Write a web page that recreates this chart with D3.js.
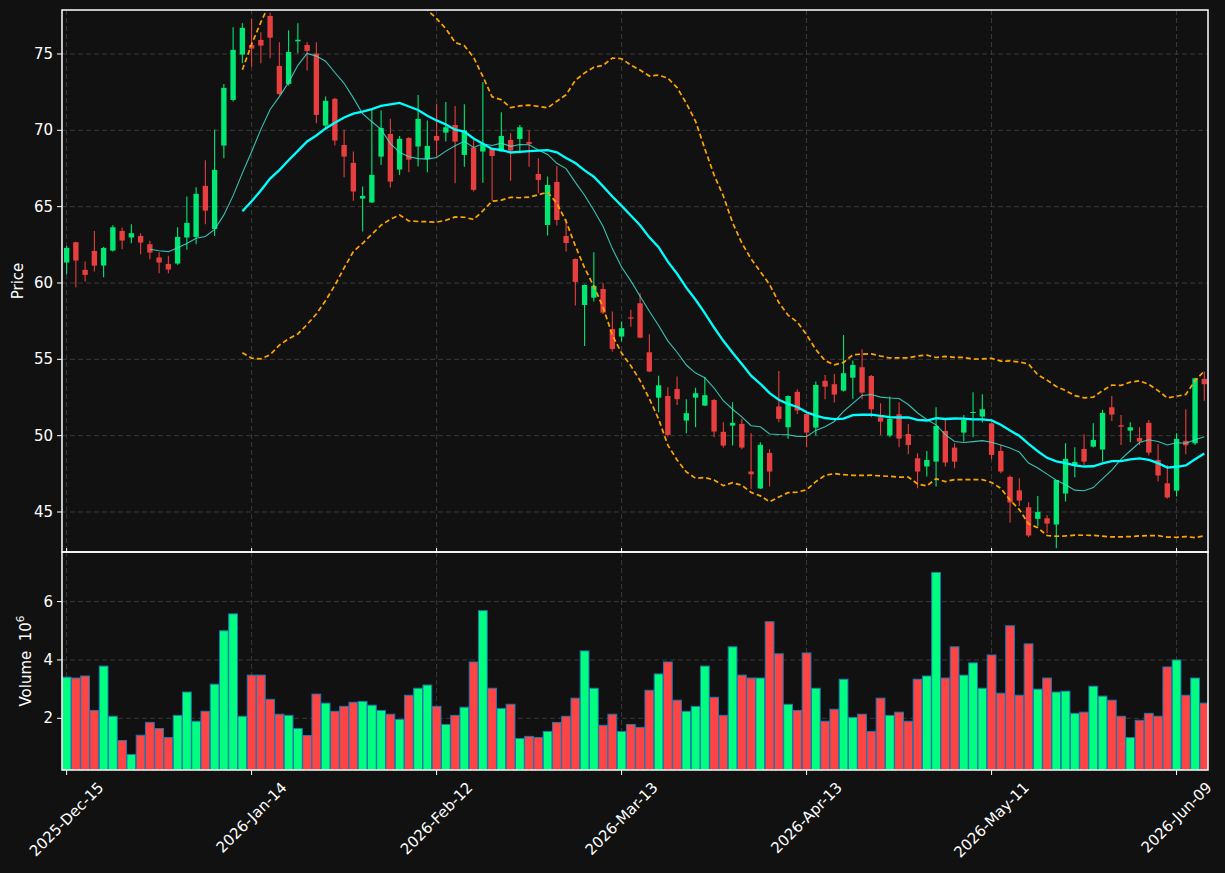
<!DOCTYPE html>
<html><head><meta charset="utf-8">
<script src="https://cdn.jsdelivr.net/npm/d3@7"></script>
<style>body{margin:0;background:#111111;} text{font-family:"DejaVu Sans",sans-serif;}</style>
</head><body><svg id="c" width="1225" height="873"></svg>
<script>
const opens=[61.34,62.67,60.86,62.10,61.14,62.12,63.41,62.98,63.08,62.54,61.67,61.25,61.27,62.98,63.02,66.36,63.54,69.00,71.99,74.96,
75.59,75.92,77.49,74.22,73.04,75.83,75.59,75.03,70.31,72.06,69.04,67.87,65.53,65.27,68.28,69.76,67.43,69.50,68.94,68.11,
69.63,69.85,70.35,68.39,68.87,68.61,68.82,68.61,69.37,69.43,69.24,67.14,63.80,66.62,63.08,61.57,58.56,59.04,59.61,56.99,
56.49,57.75,58.67,55.46,52.49,52.60,53.06,50.99,52.49,51.97,52.34,50.25,50.66,50.77,47.65,46.54,48.87,51.91,50.55,52.87,
51.42,50.53,53.59,53.37,52.95,53.80,54.48,53.91,51.21,50.01,51.40,50.11,48.52,47.98,48.30,50.31,49.22,50.20,51.51,51.25,
50.81,49.00,47.30,46.42,45.31,44.55,44.59,44.18,46.21,48.08,49.13,49.28,49.09,51.86,50.68,50.33,49.85,50.84,48.41,46.88,
46.40,49.66,49.50,53.72];
const highs=[62.43,62.70,61.40,63.41,62.35,63.78,63.63,63.85,63.26,62.76,62.02,61.78,63.65,65.66,66.27,68.04,70.03,73.04,76.75,77.01,
77.30,76.42,77.70,75.77,76.55,77.01,75.77,75.77,72.21,72.14,70.03,68.61,66.32,71.40,71.29,70.75,69.63,69.55,72.32,70.64,
71.74,71.86,71.60,71.70,69.37,73.14,68.85,71.18,69.81,70.35,70.00,68.17,66.97,67.67,64.19,61.60,59.90,62.01,59.98,58.13,
57.47,58.24,59.33,56.64,53.93,53.17,53.87,52.39,53.13,53.83,52.40,50.88,52.19,51.10,50.16,49.57,49.11,54.24,52.63,53.04,
51.45,53.54,53.98,54.04,56.60,54.92,55.66,53.98,52.12,52.56,52.19,50.77,48.85,49.00,51.86,51.10,49.50,51.36,52.84,52.71,
50.86,49.39,47.39,47.21,45.64,46.05,44.79,47.10,49.50,49.24,50.09,50.81,51.69,52.60,51.36,50.88,50.55,51.03,49.44,48.08,
50.16,51.73,53.80,54.20];
const lows=[60.57,59.72,60.09,60.75,60.38,62.06,62.21,62.60,61.88,61.56,60.64,60.64,61.19,62.17,62.54,63.85,63.08,68.17,71.88,74.39,
74.17,74.39,74.72,72.30,72.93,75.05,73.91,70.46,70.03,69.00,66.93,65.38,63.37,65.25,67.73,66.25,67.08,67.25,67.63,67.25,
68.28,69.26,66.53,67.62,65.99,66.57,65.40,68.60,66.70,68.50,67.62,65.88,63.11,63.76,62.06,58.52,55.88,58.78,57.97,55.51,
56.16,57.14,56.38,54.15,51.53,49.94,52.01,50.16,50.55,51.95,49.90,49.22,49.35,49.11,46.51,46.50,46.67,50.88,49.79,51.42,
49.24,50.01,52.38,52.17,52.89,52.41,52.38,51.21,50.05,49.90,49.24,48.78,46.56,47.32,46.67,47.98,47.87,49.61,49.90,50.86,
48.46,47.54,44.31,45.40,43.35,44.05,43.61,42.63,45.68,47.28,48.08,49.22,48.30,50.96,49.39,49.57,49.39,48.72,46.99,45.88,
46.01,48.78,49.39,52.28];
const closes=[62.30,61.47,60.53,61.14,62.30,63.65,62.78,63.26,62.65,61.99,61.34,60.88,63.02,63.94,65.84,64.74,67.41,72.78,75.27,76.71,
75.35,75.55,76.07,72.38,75.13,75.93,75.20,71.01,71.93,69.33,68.28,65.99,65.70,67.08,70.16,66.64,69.44,68.08,70.75,68.98,
69.33,70.20,69.26,69.98,66.10,69.04,68.32,69.63,68.67,70.20,69.11,66.75,66.42,64.13,62.62,60.07,59.87,59.81,58.06,55.68,
57.04,57.67,56.42,54.20,53.30,50.05,52.39,51.47,52.78,52.65,50.27,49.35,50.84,49.22,47.47,49.40,47.65,51.10,52.60,51.65,
50.20,53.32,53.21,52.69,54.09,54.63,52.82,51.73,50.92,51.10,49.81,49.39,47.65,48.41,50.64,48.24,48.30,51.03,51.55,51.73,
48.74,47.65,45.62,45.75,43.46,45.01,44.24,47.10,48.48,48.28,48.30,49.72,51.49,51.38,50.59,50.55,49.61,48.89,47.39,45.95,
49.79,49.37,53.76,53.37];
// volume in millions
const volumes=[3.41,3.38,3.45,2.27,3.79,2.07,1.24,0.76,1.42,1.86,1.65,1.34,2.10,2.90,1.90,2.24,3.17,5.00,5.58,2.07,
3.48,3.48,2.65,2.14,2.10,1.65,1.41,2.83,2.52,2.24,2.41,2.55,2.58,2.45,2.27,2.14,1.96,2.79,3.03,3.14,
2.41,1.79,2.10,2.38,3.93,5.69,3.03,2.34,2.48,1.31,1.38,1.34,1.55,1.86,2.07,2.69,4.31,3.03,1.76,2.14,
1.55,1.79,1.69,2.96,3.52,3.93,2.62,2.24,2.41,3.79,2.72,2.10,4.45,3.48,3.38,3.38,5.31,4.21,2.48,2.27,
4.24,3.03,1.90,2.31,3.34,2.03,2.14,1.55,2.69,2.10,2.21,1.90,3.34,3.45,7.00,3.38,4.45,3.48,3.90,3.03,
4.17,2.86,5.17,2.79,4.55,3.00,3.38,2.90,2.93,2.17,2.21,3.10,2.76,2.62,2.07,1.34,1.93,2.17,2.07,3.76,
4.00,2.79,3.38,2.52];
const tickIdx=[0,20,40,60,80,100,120];
const tickLabels=["2025-Dec-15","2026-Jan-14","2026-Feb-12","2026-Mar-13","2026-Apr-13","2026-May-11","2026-Jun-09"];
const priceTicks=[45,50,55,60,65,70,75];
const volTicks=[2,4,6];

const W=1225,H=873;
const L=62,R=1208,PT=10,PB=552,VT=552,VB=770;
const FS=15;
const n=closes.length;
const svg=d3.select('#c');
svg.append('rect').attr('width',W).attr('height',H).attr('fill','#111111');

const x=d3.scaleLinear().domain([-0.5,n-0.6]).range([L,R]);
const slot=x(1)-x(0);
const yP=d3.scaleLinear().domain([42.38,77.88]).range([PB,PT]);
const vmin=0.3*d3.min(volumes), vmax=1.1*d3.max(volumes);
const yV=d3.scaleLinear().domain([vmin,vmax]).range([VB,VT]);

const defs=svg.append('defs');
defs.append('clipPath').attr('id','cp').append('rect').attr('x',L).attr('y',PT).attr('width',R-L).attr('height',PB-PT);
defs.append('clipPath').attr('id','cv').append('rect').attr('x',L).attr('y',VT).attr('width',R-L).attr('height',VB-VT);

const gridC='#3a3a3a';
const grid=svg.append('g').attr('stroke',gridC).attr('stroke-width',1).attr('stroke-dasharray','5,3');
tickIdx.forEach(i=>{
  grid.append('line').attr('x1',x(i)).attr('x2',x(i)).attr('y1',PT).attr('y2',PB);
  grid.append('line').attr('x1',x(i)).attr('x2',x(i)).attr('y1',VT).attr('y2',VB);
});
priceTicks.forEach(p=>grid.append('line').attr('x1',L).attr('x2',R).attr('y1',yP(p)).attr('y2',yP(p)));
volTicks.forEach(v=>grid.append('line').attr('x1',L).attr('x2',R).attr('y1',yV(v)).attr('y2',yV(v)));

const UP='#00ff7f', DN='#ff4444';
const cg=svg.append('g').attr('clip-path','url(#cp)').attr('opacity',0.9);
const bw=slot*0.58;
d3.range(n).forEach(i=>{
  const up=closes[i]>=opens[i];
  const col=up?UP:DN;
  cg.append('line').attr('x1',x(i)).attr('x2',x(i)).attr('y1',yP(highs[i])).attr('y2',yP(lows[i])).attr('stroke',col).attr('stroke-width',1.1);
  const top=yP(Math.max(opens[i],closes[i])), bot=yP(Math.min(opens[i],closes[i]));
  cg.append('rect').attr('x',x(i)-bw/2).attr('y',top).attr('width',bw).attr('height',Math.max(1,bot-top)).attr('fill',col);
});

function sma(a,k){return a.map((_,i)=>i<k-1?null:d3.mean(a.slice(i-k+1,i+1)));}
function sd(a,k){return a.map((_,i)=>{if(i<k-1)return null;const s=a.slice(i-k+1,i+1);const m=d3.mean(s);return Math.sqrt(d3.mean(s.map(v=>(v-m)*(v-m))));});}
const ma10=sma(closes,10), ma20=sma(closes,20), sd20=sd(closes,20);
const upper=ma20.map((m,i)=>m==null?null:m+2*sd20[i]);
const lower=ma20.map((m,i)=>m==null?null:m-2*sd20[i]);
const line=d3.line().defined(d=>d!=null).x((d,i)=>x(i)).y(d=>yP(d));
const lg=svg.append('g').attr('clip-path','url(#cp)').attr('fill','none');
lg.append('path').attr('d',line(ma10)).attr('stroke','#40e0d0').attr('stroke-width',1.1).attr('opacity',0.85);
lg.append('path').attr('d',line(ma20)).attr('stroke','#00ffff').attr('stroke-width',2.3);
lg.append('path').attr('d',line(upper)).attr('stroke','#ffa500').attr('stroke-width',1.7).attr('stroke-dasharray','5,3');
lg.append('path').attr('d',line(lower)).attr('stroke','#ffa500').attr('stroke-width',1.7).attr('stroke-dasharray','5,3');

const vg=svg.append('g').attr('clip-path','url(#cv)');
const vw=slot*0.95;
d3.range(n).forEach(i=>{
  const up=closes[i]>=opens[i];
  vg.append('rect').attr('x',x(i)-vw/2).attr('y',yV(volumes[i])).attr('width',vw).attr('height',VB-yV(volumes[i])+2)
    .attr('fill',up?UP:DN).attr('stroke','#1f77b4').attr('stroke-width',1);
});

const fr=svg.append('g').attr('fill','none').attr('stroke','#ffffff').attr('stroke-width',1.5);
fr.append('rect').attr('x',L).attr('y',PT).attr('width',R-L).attr('height',PB-PT);
fr.append('rect').attr('x',L).attr('y',VT).attr('width',R-L).attr('height',VB-VT);

const tk=svg.append('g').attr('stroke','#ffffff').attr('stroke-width',1);
const tx=svg.append('g').attr('fill','#ffffff').attr('font-size',FS);
priceTicks.forEach(p=>{
  tk.append('line').attr('x1',L-5).attr('x2',L).attr('y1',yP(p)).attr('y2',yP(p));
  tx.append('text').attr('x',L-9).attr('y',yP(p)).attr('text-anchor','end').attr('dominant-baseline','central').text(p);
});
volTicks.forEach(v=>{
  tk.append('line').attr('x1',L-5).attr('x2',L).attr('y1',yV(v)).attr('y2',yV(v));
  tx.append('text').attr('x',L-9).attr('y',yV(v)).attr('text-anchor','end').attr('dominant-baseline','central').text(v);
});
tickIdx.forEach((i,k)=>{
  tk.append('line').attr('x1',x(i)).attr('x2',x(i)).attr('y1',VB).attr('y2',VB+5);
  tk.append('line').attr('x1',x(i)).attr('x2',x(i)).attr('y1',PB).attr('y2',PB-4);
  const t=tx.append('text').attr('text-anchor','middle').attr('dominant-baseline','central').text(tickLabels[k]);
  const w=t.node().getComputedTextLength();
  const h=(w+FS+2)*Math.SQRT1_2;
  t.attr('transform',`translate(${x(i)},${779+h/2}) rotate(-45)`);
});
tx.append('text').attr('transform',`translate(18,${(PT+PB)/2}) rotate(-90)`).attr('text-anchor','middle').attr('dominant-baseline','central').text('Price');
const vl=tx.append('text').attr('transform',`translate(26,${(VT+VB)/2}) rotate(-90)`).attr('text-anchor','middle').attr('dominant-baseline','central');
vl.append('tspan').text('Volume\u00a0\u00a010');
vl.append('tspan').attr('font-size',10.5).attr('dy',-6).text('6');
</script></body></html>
